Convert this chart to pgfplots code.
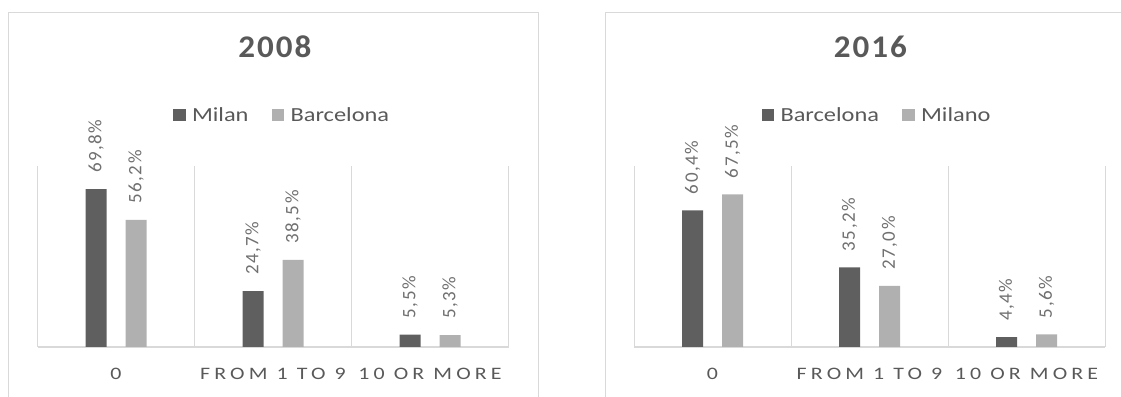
\documentclass[border=0pt]{standalone}
\usepackage{fontspec}
\setmainfont{Carlito}
\newfontfamily\tickfont[LetterSpace=19]{Carlito}
\newfontfamily\titlefont[LetterSpace=6]{Carlito}
\newfontfamily\labelfont[LetterSpace=8]{Carlito}
\usepackage{graphicx}
\usepackage{pgfplots}
\pgfplotsset{compat=1.18}
\definecolor{darkbar}{HTML}{5F5F5F}
\definecolor{lightbar}{HTML}{B0B0B0}
\definecolor{txt}{HTML}{595959}
\definecolor{lbl}{HTML}{707070}
\definecolor{gridc}{HTML}{D9D9D9}
\newcommand{\tx}[1]{\scalebox{1.25}[1]{#1}}
\newcommand{\lx}[1]{\scalebox{1.22}[1]{#1}}
\newcommand{\ttl}[1]{\scalebox{1.05}[1]{#1}}
\pgfplotsset{
  panel/.style={
    width=471pt, height=181pt, scale only axis,
    ymin=0, ymax=80, xmin=-0.5, xmax=2.5,
    ybar=19pt, bar width=21pt,
    axis y line=none, axis x line*=bottom,
    x axis line style={draw=gridc, line width=1.5pt, -},
    xtick={0,1,2}, xticklabels={{\tx{0}}, {\tx{FROM 1 TO 9}}, {\tx{10 OR MORE}}},
    major tick length=0pt, minor tick length=0pt,
    minor xtick={-0.5,0.5,1.5,2.5}, xminorgrids=true,
    minor grid style={draw=gridc, line width=1pt},
    xticklabel style={font=\tickfont\fontsize{17.5}{17.5}\selectfont, text=txt, anchor=base, yshift=-32.5pt, inner sep=0pt},
    clip=false,
    /pgf/number format/.cd, fixed, fixed zerofill, precision=1, use comma, assume math mode=true, /pgfplots/.cd,
    nodes near coords={\pgfmathprintnumber{\pgfplotspointmeta}\%},
    every node near coord/.append style={font=\labelfont\fontsize{19}{19}\selectfont, text=lbl, rotate=90, anchor=west, inner sep=0pt, xshift=16pt},
    title style={anchor=base, font=\titlefont\bfseries\fontsize{31.5}{31.5}\selectfont, text=txt, inner sep=0pt},
    legend columns=2,
    legend image code/.code={\fill[##1] (0pt,-6pt) rectangle (12.5pt,6pt);},
    legend style={draw=none, fill=none, inner sep=0pt, outer sep=0pt, anchor=west,
      font=\fontsize{20}{20}\selectfont, text=txt, nodes={inner sep=0pt},
      /tikz/every odd column/.append style={column sep=6.5pt},
      /tikz/every even column/.append style={column sep=23pt}},
  }
}
\begin{document}
\begin{tikzpicture}[x=1pt,y=1pt]
\useasboundingbox (0,0) rectangle (1121,396);
\clip (0,0) rectangle (1121,396);
\draw[gridc, line width=1pt] (8,-10) -- (8,383) -- (538,383) -- (538,-10);
\draw[gridc, line width=1pt] (605,-10) -- (605,383) -- (1140,383);
\begin{axis}[panel, at={(37.5pt,49pt)}, anchor=south west,
  title={\ttl{2008}}, title style={at={(0.504,1.569)}},
  legend style={at={(0.2877,1.282)}}]
\addplot[fill=darkbar, draw=none] coordinates {(0,69.8) (1,24.7) (2,5.5)};
\addplot[fill=lightbar, draw=none] coordinates {(0,56.2) (1,38.5) (2,5.3)};
\legend{\lx{Milan}, \lx{Barcelona}}
\end{axis}
\begin{axis}[panel, at={(634pt,49pt)}, anchor=south west,
  title={\ttl{2016}}, title style={at={(0.502,1.569)}},
  legend style={at={(0.2707,1.282)}}]
\addplot[fill=darkbar, draw=none] coordinates {(0,60.4) (1,35.2) (2,4.4)};
\addplot[fill=lightbar, draw=none] coordinates {(0,67.5) (1,27.0) (2,5.6)};
\legend{\lx{Barcelona}, \lx{Milano}}
\end{axis}
\end{tikzpicture}
\end{document}
